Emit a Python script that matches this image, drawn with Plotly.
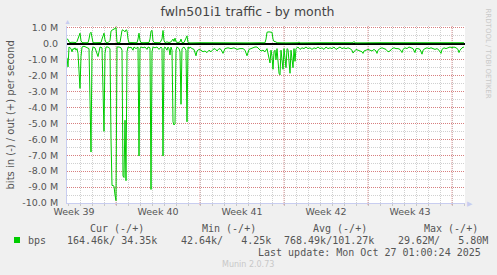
import datetime as dt
import plotly.graph_objects as go

# ---- data ----
start = dt.datetime(2025, 9, 23, 22, 0)          # left edge of the graph
end_hours = 796                                   # graph length in hours

# inbound traffic (plotted negative), Mbit/s; time in hours from start
in_hours = [0, 2, 4, 6, 8, 10, 12, 14, 16, 18, 20, 22, 24, 26, 28, 30, 34, 38, 42, 44,
            46, 48, 50, 52, 56, 58, 60, 62, 64, 66, 70, 72, 74, 76, 78, 82, 86, 88, 90, 92,
            94, 96, 98, 100, 104, 108, 110, 112, 114, 116, 118, 120, 122, 126, 128, 132, 134, 138, 142, 144,
            146, 148, 152, 156, 160, 162, 166, 168, 170, 172, 176, 180, 184, 188, 190, 192, 194, 196, 200, 202,
            204, 206, 208, 210, 212, 214, 216, 218, 220, 224, 226, 228, 230, 234, 238, 240, 242, 244, 246, 250,
            254, 258, 260, 264, 268, 272, 276, 280, 284, 288, 292, 296, 300, 304, 308, 312, 316, 322, 328, 334,
            340, 346, 352, 356, 360, 364, 370, 376, 380, 384, 388, 392, 396, 400, 402, 406, 408, 410, 412, 414,
            416, 418, 420, 424, 426, 428, 432, 434, 438, 440, 442, 446, 448, 452, 454, 456, 458, 462, 466, 470,
            474, 478, 482, 486, 490, 494, 498, 502, 506, 510, 514, 518, 522, 526, 530, 534, 538, 542, 546, 550,
            554, 558, 562, 566, 570, 572, 574, 578, 582, 586, 590, 592, 594, 598, 602, 606, 610, 614, 618, 620,
            622, 626, 630, 634, 638, 642, 646, 650, 654, 658, 662, 666, 670, 672, 676, 680, 684, 688, 692, 696,
            698, 702, 706, 710, 712, 716, 720, 724, 728, 732, 736, 740, 744, 748, 750, 754, 758, 762, 766, 770,
            774, 778, 782, 784, 786, 790, 794]
in_mbps = [-0.88, -1.45, -0.2, -0.25, -0.3, -0.5, -0.3, -0.35, -0.25, -0.4, -0.3, -0.6, -1.8, -2.8, -0.8, -0.2, -0.15, -0.2, -0.25, -0.3,
           -3.5, -6.8, -0.5, -0.2, -0.25, -0.4, -0.6, -0.8, -0.5, -0.2, -0.25, -3.0, -5.5, -0.6, -0.2, -0.2, -0.3, -6.0, -8.9, -8.9,
           -8.95, -9.5, -9.85, -0.2, -0.2, -0.25, -0.4, -8.3, -8.4, -4.8, -8.6, -0.5, -0.2, -0.25, -0.2, -0.4, -0.2, -0.3, -0.2, -7.05,
           -0.3, -0.2, -0.25, -0.2, -0.35, -0.2, -0.25, -9.15, -0.5, -0.2, -0.25, -0.2, -0.35, -0.2, -0.3, -7.05, -0.3, -0.2, -0.4, -0.2,
           -0.3, -0.7, -0.2, -0.4, -4.9, -5.1, -5.0, -0.4, -0.2, -0.3, -0.5, -3.8, -0.3, -0.2, -0.4, -4.9, -0.2, -0.3, -0.2, -0.3,
           -0.35, -0.75, -0.45, -0.35, -0.4, -0.5, -0.45, -0.55, -0.4, -0.5, -0.35, -0.3, -0.45, -0.3, -0.35, -0.6, -0.3, -0.25, -0.3, -0.25,
           -0.35, -0.3, -0.3, -0.4, -0.75, -0.35, -0.25, -0.2, -0.2, -0.35, -0.45, -0.4, -0.5, -0.3, -0.6, -1.2, -0.4, -0.8, -1.6, -0.5,
           -0.4, -1.0, -0.3, -1.85, -1.95, -0.4, -1.6, -0.3, -1.5, -0.3, -0.35, -1.85, -0.4, -1.5, -0.3, -1.1, -0.3, -0.2, -0.35, -0.25,
           -0.3, -0.2, -0.3, -0.25, -0.35, -0.25, -0.3, -0.2, -0.3, -0.25, -0.35, -0.2, -0.3, -0.25, -0.3, -0.2, -0.35, -0.3, -0.2, -0.3,
           -0.25, -0.3, -0.25, -0.3, -0.4, -0.58, -0.5, -0.35, -0.4, -0.45, -0.5, -0.6, -0.45, -0.4, -0.35, -0.4, -0.45, -0.35, -0.45, -0.6,
           -0.4, -0.3, -0.25, -0.3, -0.35, -0.5, -0.45, -0.3, -0.25, -0.3, -0.3, -0.35, -0.55, -0.35, -0.25, -0.3, -0.2, -0.25, -0.3, -0.55,
           -0.3, -0.3, -0.35, -0.65, -0.4, -0.3, -0.25, -0.3, -0.25, -0.3, -0.35, -0.3, -0.4, -0.6, -0.35, -0.25, -0.3, -0.25, -0.2, -0.25,
           -0.2, -0.25, -0.35, -0.55, -0.4, -0.25, -0.2]

# outbound traffic (plotted positive), Mbit/s
out_hours = [0, 2, 4, 6, 10, 14, 18, 20, 22, 24, 26, 28, 30, 34, 38, 42, 44, 46, 48, 50,
             52, 56, 60, 64, 68, 70, 72, 74, 76, 78, 82, 86, 88, 90, 92, 94, 96, 98, 100, 102,
             106, 108, 110, 112, 114, 116, 118, 120, 122, 124, 128, 132, 136, 140, 142, 144, 146, 148, 152, 156,
             160, 164, 166, 168, 170, 172, 174, 178, 182, 186, 190, 192, 194, 196, 200, 204, 208, 212, 214, 216,
             218, 222, 226, 228, 230, 234, 238, 240, 242, 246, 266, 286, 306, 326, 346, 366, 386, 396, 398, 400,
             404, 408, 410, 412, 414, 418, 420, 436, 462, 464, 466, 506, 546, 572, 574, 576, 626, 666, 706, 746,
             794]
out_mbps = [0.3, 0.28, 0.12, 0.08, 0.1, 0.07, 0.08, 0.15, 0.35, 0.55, 0.67, 0.2, 0.08, 0.07, 0.08, 0.07, 0.3, 0.65, 0.73, 0.3,
            0.08, 0.07, 0.08, 0.07, 0.08, 0.3, 0.6, 0.67, 0.25, 0.08, 0.07, 0.2, 0.8, 0.88, 0.9, 0.92, 0.98, 1.02, 0.1, 0.07,
            0.08, 0.55, 0.85, 0.88, 0.8, 0.75, 0.88, 0.84, 0.3, 0.07, 0.08, 0.07, 0.08, 0.07, 0.3, 0.67, 0.2, 0.08, 0.07, 0.08,
            0.07, 0.08, 0.3, 0.8, 0.84, 0.2, 0.08, 0.07, 0.08, 0.07, 0.3, 0.84, 0.2, 0.08, 0.12, 0.08, 0.12, 0.3, 0.15, 0.36,
            0.12, 0.08, 0.12, 0.3, 0.08, 0.08, 0.36, 0.5, 0.08, 0.06, 0.07, 0.06, 0.08, 0.06, 0.07, 0.06, 0.07, 0.07, 0.3, 0.73,
            0.75, 0.74, 0.72, 0.3, 0.15, 0.12, 0.07, 0.06, 0.07, 0.12, 0.06, 0.07, 0.06, 0.07, 0.15, 0.06, 0.07, 0.06, 0.07, 0.06,
            0.07]

y_ticks = [1, 0, -1, -2, -3, -4, -5, -6, -7, -8, -9, -10]
y_labels = ["1.0 M", "0.0", "-1.0 M", "-2.0 M", "-3.0 M", "-4.0 M", "-5.0 M",
            "-6.0 M", "-7.0 M", "-8.0 M", "-9.0 M", "-10.0 M"]
week_starts = [dt.datetime(2025, 9, 21) + dt.timedelta(days=7 * k) for k in range(6)]

legend_headers = ["Cur (-/+)", "Min (-/+)", "Avg (-/+)", "Max (-/+)"]
legend_values = ["164.46k/ 34.35k", "42.64k/   4.25k", "768.49k/101.27k", "29.62M/   5.80M"]
last_update = "Last update: Mon Oct 27 01:00:24 2025"

# ---- figure ----
GREEN = "#00cc00"
L, R, T, B = 67, 32, 26, 72
W, H = 497, 275
PW, PH = W - L - R, H - T - B


def px(xp):
    return (xp - L) / PW


def py(yp):
    return (H - B - yp) / PH


def tt(h):
    return start + dt.timedelta(hours=h)


fig = go.Figure()
fig.add_trace(go.Scatter(x=[tt(h) for h in in_hours], y=in_mbps, mode="lines",
                         line=dict(color=GREEN, width=1), hoverinfo="skip"))
fig.add_trace(go.Scatter(x=[tt(h) for h in out_hours], y=out_mbps, mode="lines",
                         line=dict(color=GREEN, width=1), hoverinfo="skip"))

x0, x1 = start, tt(end_hours)
label_times = [w + dt.timedelta(days=3.5) for w in week_starts]
label_times = [t for t in label_times if x0 <= t <= x1]
week_text = [t.strftime("Week %V") for t in label_times]

RED = "rgba(220,60,60,0.55)"
GREY = "rgba(150,150,150,0.45)"
AXC = "#c8cdf0"
font_sans = "DejaVu Sans"
font_mono = "DejaVu Sans Mono"
TXT = "#555555"

fig.update_layout(
    width=W, height=H, autosize=False,
    margin=dict(l=L, r=R, t=T, b=B, pad=0),
    paper_bgcolor="#f0f0f0", plot_bgcolor="#ffffff",
    showlegend=False,
    title=dict(text="fwln501i1 traffic - by month", x=247.5 / W, xanchor="center",
               y=1 - 12 / H, yanchor="middle",
               font=dict(family=font_sans, size=12.5, color="#444444")),
    xaxis=dict(type="date", range=[x0, x1], tickmode="array", tickvals=label_times,
               ticktext=week_text, showgrid=False, ticks="", zeroline=False,
               showline=True, linecolor=AXC, linewidth=1,
               tickfont=dict(family=font_sans, size=9.5, color=TXT),
               minor=dict(tickmode="linear", tick0=week_starts[0], dtick=86400000,
                          showgrid=True, gridcolor=GREY, griddash="1px,1px", gridwidth=1,
                          ticks="outside", ticklen=2, tickcolor=GREY)),
    yaxis=dict(range=[-10, 1.12], tickmode="array", tickvals=y_ticks, ticktext=y_labels,
               showgrid=True, gridcolor=RED, griddash="1px,1px", gridwidth=1,
               zeroline=True, zerolinecolor="#000000", zerolinewidth=2,
               showline=True, linecolor=AXC, linewidth=1, ticks="", ticklabelstandoff=6,
               tickfont=dict(family=font_sans, size=9.5, color=TXT),
               minor=dict(dtick=0.5, tick0=0, showgrid=True, gridcolor=GREY,
                          griddash="1px,1px", gridwidth=1)),
)

# weekly (major) vertical grid lines
for w in week_starts:
    if x0 < w < x1:
        fig.add_shape(type="line", xref="x", yref="paper", x0=w, x1=w, y0=-0.012, y1=1,
                      line=dict(color=RED, width=1, dash="1px,1px"), layer="between")

ann = []
ann.append(dict(text="bits in (-) / out (+) per second", xref="paper", yref="paper",
                x=px(10.5), y=py(115), textangle=-90, showarrow=False,
                xanchor="center", yanchor="middle",
                font=dict(family=font_sans, size=10, color=TXT)))
ann.append(dict(text="RRDTOOL / TOBI OETIKER", xref="paper", yref="paper",
                x=px(487), y=py(53.5), textangle=90, showarrow=False,
                xanchor="center", yanchor="middle",
                font=dict(family=font_sans, size=7, color="#c8c8c8")))
ann.append(dict(text="▲", xref="paper", yref="paper", x=0, y=py(22), showarrow=False,
                xanchor="center", yanchor="middle", font=dict(size=7, color=AXC)))
ann.append(dict(text="▶", xref="paper", yref="paper", x=px(470), y=0, showarrow=False,
                xanchor="center", yanchor="middle", font=dict(size=7, color=AXC)))

for txt, xp in zip(legend_headers, [89, 201, 312, 423]):
    ann.append(dict(text=txt.replace(" ", "\u00a0"), xref="paper", yref="paper",
                    x=px(xp - 1), y=py(228), showarrow=False, xanchor="left", yanchor="middle",
                    font=dict(family=font_mono, size=10, color=TXT)))
ann.append(dict(text="bps", xref="paper", yref="paper", x=px(26), y=py(240),
                showarrow=False, xanchor="left", yanchor="middle",
                font=dict(family=font_mono, size=10, color=TXT)))
for txt, xp in zip(legend_values, [66, 180, 283, 397]):
    ann.append(dict(text=txt.replace(" ", "\u00a0"), xref="paper", yref="paper",
                    x=px(xp - 1), y=py(240), showarrow=False, xanchor="left", yanchor="middle",
                    font=dict(family=font_mono, size=10, color=TXT)))
ann.append(dict(text=last_update.replace(" ", "\u00a0"), xref="paper", yref="paper",
                x=px(483), y=py(252), showarrow=False, xanchor="right", yanchor="middle",
                font=dict(family=font_mono, size=10, color=TXT)))
ann.append(dict(text="Munin 2.0.73", xref="paper", yref="paper",
                x=px(248), y=py(264), showarrow=False, xanchor="center", yanchor="middle",
                font=dict(family=font_sans, size=8, color="#c8c8c8")))
fig.update_layout(annotations=ann)

fig.add_shape(type="rect", xref="paper", yref="paper", x0=px(14), x1=px(20),
              y0=py(243), y1=py(237), fillcolor=GREEN, line=dict(width=0))

fig.write_html("out.html")
